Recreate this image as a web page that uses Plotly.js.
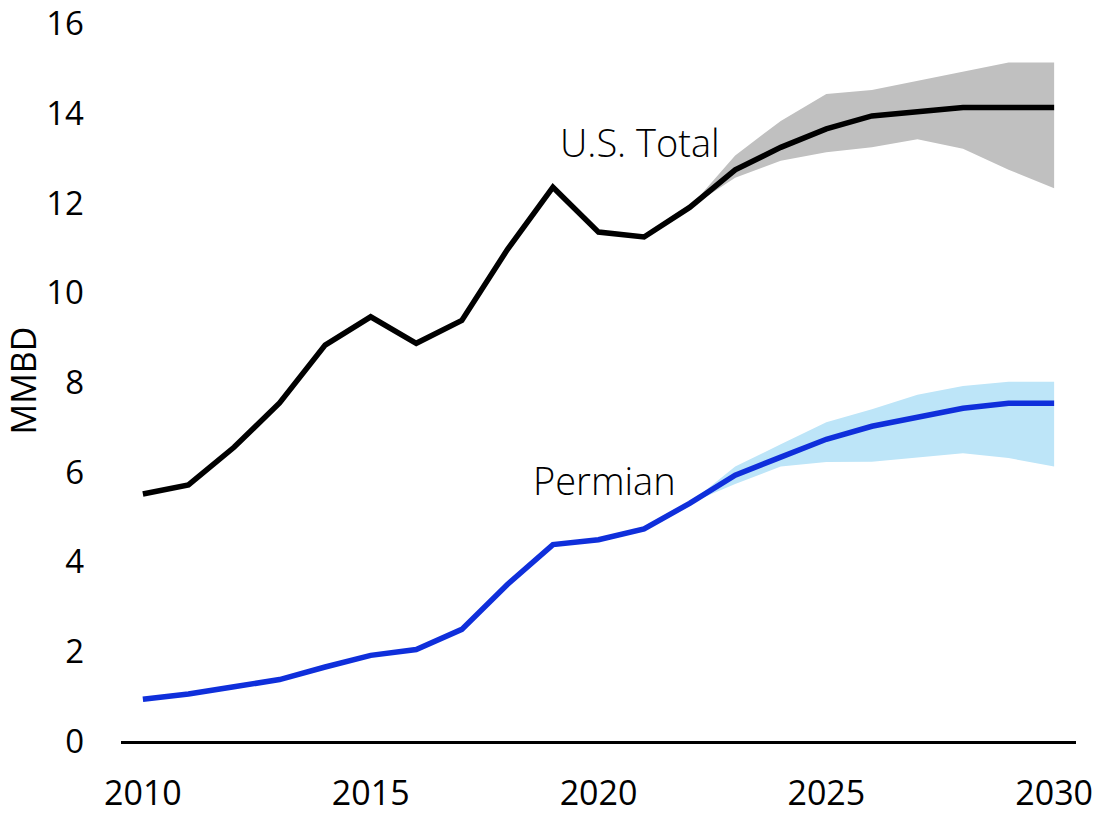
<!DOCTYPE html>
<html>
<head>
<meta charset="utf-8">
<script src="https://cdn.plot.ly/plotly-3.0.1.min.js"></script>
<style>html,body{margin:0;padding:0;background:#fff;}#chart{width:1094px;height:815px;}</style>
</head>
<body>
<div id="chart"></div>
<script>
var years = [2010,2011,2012,2013,2014,2015,2016,2017,2018,2019,2020,2021,2022,2023,2024,2025,2026,2027,2028,2029,2030];
var usTotal = [5.51,5.71,6.55,7.54,8.83,9.46,8.87,9.38,10.96,12.35,11.35,11.24,11.9,12.74,13.24,13.65,13.94,14.04,14.13,14.13,14.13];
var permian = [0.93,1.05,1.21,1.37,1.65,1.91,2.04,2.49,3.49,4.38,4.49,4.73,5.3,5.93,6.33,6.73,7.02,7.23,7.42,7.53,7.53];

var bandYears = [2022,2023,2024,2025,2026,2027,2028,2029,2030];
var usHigh = [11.9,13.06,13.83,14.43,14.52,14.72,14.93,15.13,15.13];
var usLow = [11.9,12.56,12.94,13.13,13.24,13.42,13.21,12.74,12.33];
var permHigh = [5.3,6.12,6.62,7.11,7.40,7.72,7.92,8.01,8.01];
var permLow = [5.3,5.73,6.12,6.22,6.23,6.33,6.42,6.31,6.12];

var yTicks = [0,2,4,6,8,10,12,14,16];
var xTicks = [2010,2015,2020,2025,2030];

var traces = [
  {x: bandYears, y: usLow, mode: 'lines', line: {width: 0, color: '#c0c0c0'}, hoverinfo: 'skip', showlegend: false},
  {x: bandYears, y: usHigh, mode: 'lines', fill: 'tonexty', fillcolor: '#c0c0c0', line: {width: 0, color: '#c0c0c0'}, hoverinfo: 'skip', showlegend: false},
  {x: bandYears, y: permLow, mode: 'lines', line: {width: 0, color: '#bde5f8'}, hoverinfo: 'skip', showlegend: false},
  {x: bandYears, y: permHigh, mode: 'lines', fill: 'tonexty', fillcolor: '#bde5f8', line: {width: 0, color: '#bde5f8'}, hoverinfo: 'skip', showlegend: false},
  {x: years, y: usTotal, mode: 'lines', line: {width: 5.5, color: '#000000'}, name: 'U.S. Total', showlegend: false},
  {x: years, y: permian, mode: 'lines', line: {width: 5.5, color: '#0f2fdb'}, name: 'Permian', showlegend: false}
];

var layout = {
  width: 1094, height: 815,
  margin: {l: 121, r: 18, t: 20, b: 74},
  paper_bgcolor: '#ffffff', plot_bgcolor: '#ffffff',
  font: {family: '"Open Sans", "Noto Sans", sans-serif', color: '#000000'},
  xaxis: {
    range: [2009.52, 2030.48], tickvals: xTicks, ticktext: xTicks.map(String),
    showgrid: false, zeroline: false, showline: true, linecolor: '#000000', linewidth: 3,
    ticks: '', tickfont: {size: 34, color: '#000000'}, ticklabelstandoff: 20,
    ticklabeloverflow: 'allow'
  },
  yaxis: {
    range: [0, 16.08], tickvals: yTicks, ticktext: yTicks.map(String),
    showgrid: false, zeroline: false, showline: false, ticks: '',
    tickfont: {size: 33, color: '#000000'}, ticklabelstandoff: 36,
    ticklabeloverflow: 'allow',
    title: {text: 'MMBD', font: {size: 34, color: '#000000'}, standoff: 4}
  },
  annotations: [
    {x: 2020.91, y: 13.35, xref: 'x', yref: 'y', text: 'U.S. Total', showarrow: false,
     font: {size: 38, color: '#000000', family: '"Open Sans", sans-serif', weight: 300}},
    {x: 2020.14, y: 5.83, xref: 'x', yref: 'y', text: 'Permian', showarrow: false,
     font: {size: 38, color: '#000000', family: '"Open Sans", sans-serif', weight: 300}}
  ]
};

Plotly.newPlot('chart', traces, layout, {displayModeBar: false, staticPlot: true});
</script>
</body>
</html>
